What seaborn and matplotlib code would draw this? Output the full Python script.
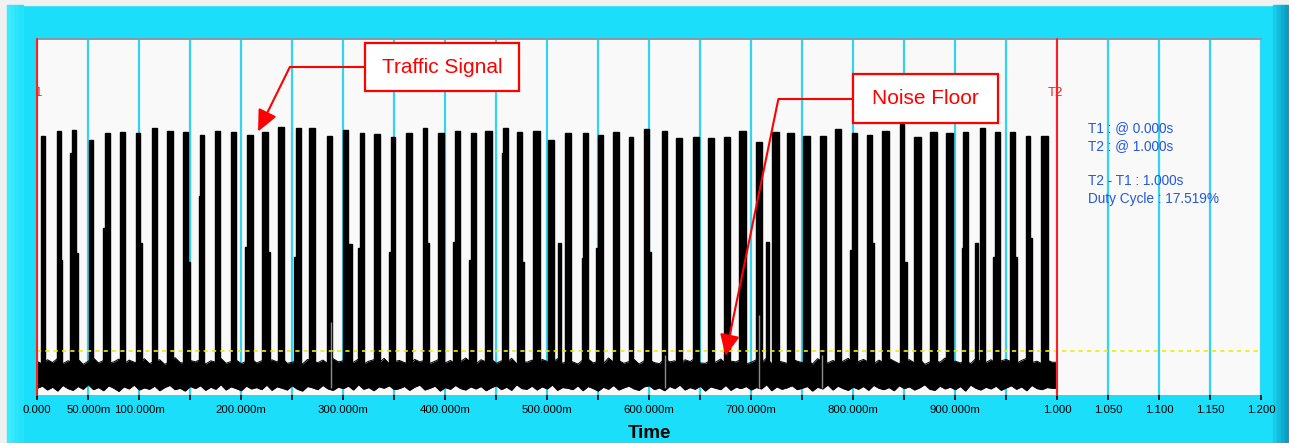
import numpy as np
import matplotlib
matplotlib.use("Agg")
import matplotlib.pyplot as plt
from matplotlib.patches import Rectangle
import seaborn as sns

# ---------------- data ----------------
# main bursts: start (ms), width (ms), peak level
burst_start = [3.6, 19.0, 34.3, 50.4, 66.7, 81.1, 96.8, 112.2, 127.5, 143.1,
               159.8, 174.2, 189.9, 205.9, 220.6, 236.3, 253.6, 266.7, 284.3, 299.4,
               316.4, 330.4, 346.8, 361.2, 377.8, 393.1, 409.5, 424.9, 438.9, 456.9,
               470.6, 486.3, 501.0, 517.4, 535.3, 549.4, 564.1, 580.1, 595.1, 612.2,
               626.2, 642.6, 657.8, 673.5, 688.2, 704.6, 720.6, 735.3, 751.0, 767.4,
               782.0, 798.4, 813.1, 828.4, 845.8, 859.5, 875.2, 890.6, 907.8, 924.2,
               938.9, 953.6, 969.0, 984.0]
burst_width = [4.0, 4.0, 3.7, 4.6, 4.7, 5.0, 4.0, 5.0, 5.3, 5.0,
               3.7, 5.0, 4.7, 5.3, 5.3, 6.0, 5.0, 6.0, 4.3, 5.0,
               4.0, 6.0, 4.0, 6.0, 4.0, 6.0, 5.0, 5.0, 6.5, 4.3,
               4.3, 6.5, 5.7, 6.0, 5.0, 5.0, 6.3, 4.3, 5.0, 5.0,
               5.7, 5.7, 5.7, 5.7, 6.7, 5.7, 6.5, 6.5, 6.5, 5.7,
               5.7, 5.0, 5.0, 6.5, 4.3, 6.5, 7.0, 7.0, 4.3, 5.3,
               5.0, 5.0, 4.3, 6.5]
burst_peak = [72.8, 74.2, 74.4, 71.6, 73.6, 74.0, 73.6, 75.0, 74.2, 73.9,
              73.0, 74.2, 74.0, 73.0, 74.0, 75.4, 74.9, 74.9, 72.8, 74.4,
              73.5, 73.2, 72.6, 73.5, 74.9, 73.5, 74.2, 73.5, 74.2, 75.1,
              74.0, 74.2, 71.6, 73.5, 73.5, 73.0, 74.0, 72.6, 74.7, 74.2,
              72.3, 72.6, 72.1, 72.6, 74.2, 71.2, 74.0, 73.5, 72.8, 72.8,
              74.7, 73.5, 73.0, 74.2, 76.0, 72.6, 73.8, 73.5, 74.0, 74.9,
              74.0, 74.0, 72.8, 72.8]

# shoulders / short secondary bursts: start (ms), width (ms), level
shoulder_start = [23.0, 32.3, 38.0, 64.7, 100.8, 148.1, 158.5, 203.6, 225.9, 251.9,
                  304.9, 314.7, 344.8, 381.8, 407.8, 423.6, 455.2, 474.9, 510.2, 533.6,
                  547.7, 600.1, 714.4, 796.7, 818.1, 850.1, 906.1, 919.3, 937.2, 958.6,
                  973.3]
shoulder_width = [1.7, 2.0, 1.7, 2.0, 1.7, 1.7, 1.3, 2.3, 2.3, 1.7,
                  3.3, 1.7, 2.0, 2.0, 1.7, 1.3, 1.7, 2.7, 3.0, 1.7,
                  1.7, 1.7, 3.3, 1.7, 2.3, 2.3, 1.7, 2.7, 1.7, 2.3,
                  2.3]
shoulder_peak = [38.0, 68.0, 40.0, 47.0, 42.7, 37.5, 56.0, 41.7, 40.3, 38.8,
                 42.3, 41.3, 40.3, 42.6, 43.0, 38.0, 68.0, 37.5, 42.6, 38.4,
                 41.2, 40.3, 43.1, 40.7, 42.6, 37.5, 41.2, 42.6, 38.8, 38.8,
                 44.0]

# noise floor envelope, one value per 5 ms from 0 to 0.995 s
noise_upper = [
    9.4, 8.7, 9.9, 9.1, 10.3, 8.8, 9.6, 9.2, 10.0, 8.6, 9.5, 10.4, 9.0, 9.7, 8.9, 9.3, 10.1, 8.7, 9.8, 9.2,
    9.0, 10.2, 8.8, 9.5, 9.9, 8.6, 9.4, 10.5, 9.1, 8.9, 9.7, 9.3, 10.0, 8.7, 9.6, 9.2, 10.3, 8.9, 9.4, 9.8,
    8.8, 9.5, 10.1, 9.0, 9.6, 8.6, 9.9, 9.3, 10.4, 8.9, 9.2, 9.7, 8.7, 10.0, 9.4, 9.1, 9.8, 8.8, 10.2, 9.3,
    9.6, 8.9, 9.2, 10.1, 8.7, 9.5, 9.9, 9.0, 10.3, 8.8, 9.4, 9.7, 9.1, 8.6, 10.0, 9.3, 9.8, 8.9, 9.5, 10.2,
    9.0, 9.7, 8.8, 9.4, 10.4, 9.2, 8.7, 9.9, 9.3, 10.1, 8.9, 9.6, 9.0, 10.3, 8.8, 9.5, 9.2, 9.8, 8.6, 10.0,
    9.4, 9.1, 10.2, 8.9, 9.6, 9.3, 8.7, 9.9, 10.1, 9.0, 9.5, 8.8, 10.4, 9.2, 9.7, 8.9, 9.4, 10.0, 8.7, 9.6,
    9.8, 9.1, 8.8, 10.2, 9.3, 9.6, 8.6, 9.9, 9.4, 10.3, 9.0, 8.9, 9.7, 9.2, 10.1, 8.8, 9.5, 9.3, 10.0, 8.7,
    9.2, 9.9, 9.0, 10.4, 8.8, 9.6, 9.3, 8.9, 10.1, 9.5, 9.1, 9.8, 8.7, 10.2, 9.4, 9.0, 9.7, 8.9, 9.5, 10.3,
    8.9, 9.4, 10.0, 9.2, 8.7, 9.8, 9.1, 10.3, 9.5, 8.8, 9.6, 9.9, 9.0, 10.1, 8.6, 9.3, 9.7, 9.2, 10.4, 8.9,
    9.5, 9.0, 9.8, 8.8, 10.2, 9.4, 9.1, 9.9, 8.7, 9.6, 10.0, 9.3, 8.9, 9.7, 10.3, 9.1, 9.5, 8.8, 9.8, 9.2]
noise_lower = [
    1.9, 2.5, 1.4, 2.2, 1.1, 2.7, 1.8, 1.3, 2.4, 1.6, 2.9, 1.5, 2.1, 1.2, 2.6, 1.9, 1.0, 2.3, 1.7, 2.8,
    1.4, 2.0, 1.6, 2.5, 1.2, 2.1, 2.7, 1.5, 1.9, 1.1, 2.4, 1.8, 2.6, 1.3, 2.2, 1.6, 2.9, 1.4, 2.3, 1.8,
    1.2, 2.5, 1.7, 2.1, 1.5, 2.8, 1.3, 2.3, 1.9, 1.4, 2.6, 1.6, 1.1, 2.4, 2.0, 1.5, 2.7, 1.7, 1.3, 2.2,
    1.8, 2.5, 1.4, 2.9, 1.6, 2.1, 1.2, 2.3, 1.9, 2.6, 1.5, 1.8, 2.4, 1.3, 2.2, 2.8, 1.4, 1.9, 2.5, 1.1,
    2.1, 1.6, 2.7, 1.8, 1.4, 2.3, 1.7, 2.4, 1.2, 2.0, 2.6, 1.5, 2.2, 1.3, 2.9, 1.8, 1.6, 2.5, 1.4, 2.3,
    1.7, 2.8, 1.3, 2.1, 1.9, 1.5, 2.6, 1.2, 2.4, 1.8, 1.1, 2.2, 1.6, 2.7, 1.4, 2.0, 2.5, 1.7, 1.3, 2.3,
    2.6, 1.5, 2.0, 1.2, 2.4, 1.8, 2.8, 1.4, 2.1, 1.6, 2.5, 1.1, 2.3, 1.9, 1.5, 2.7, 1.3, 2.2, 1.8, 2.4,
    1.4, 2.1, 1.7, 2.9, 1.2, 2.3, 1.6, 2.0, 2.6, 1.5, 1.9, 2.4, 1.1, 2.2, 1.7, 2.8, 1.4, 2.5, 1.8, 1.3,
    2.2, 1.6, 2.4, 1.3, 2.7, 1.9, 1.5, 2.1, 1.2, 2.6, 1.8, 2.3, 1.4, 2.0, 2.9, 1.6, 1.3, 2.5, 1.7, 2.2,
    1.5, 2.4, 1.1, 2.8, 1.9, 1.4, 2.2, 1.7, 2.5, 1.3, 2.0, 2.6, 1.6, 2.3, 1.2, 2.7, 1.8, 1.5, 2.1, 1.9]
noise_t = [i / 200 for i in range(200)]

# isolated grey glitches: time (s), top level
spike_t = [0.2877, 0.6154, 0.7075, 0.7690]
spike_top = [20.5, 11.2, 22.5, 11.2]

threshold = 12.4
cursor_t = [0.0, 1.0]

tick_pos = [0.0, 0.05, 0.10, 0.15, 0.20, 0.25, 0.30, 0.35, 0.40, 0.45, 0.50, 0.55,
            0.60, 0.65, 0.70, 0.75, 0.80, 0.85, 0.90, 0.95, 1.00, 1.05, 1.10, 1.15, 1.20]
tick_lab = ["0.000", "50.000m", "100.000m", "", "200.000m", "", "300.000m", "",
            "400.000m", "", "500.000m", "", "600.000m", "", "700.000m", "",
            "800.000m", "", "900.000m", "", "1.000", "1.050", "1.100", "1.150", "1.200"]

info_lines = ["T1 : @ 0.000s", "T2 : @ 1.000s", "T2 - T1 : 1.000s", "Duty Cycle : 17.519%"]
info_y = [75.0, 69.9, 60.0, 55.1]

# ---------------- style ----------------
sns.set_theme(style="white")
plt.rcParams["font.family"] = ["Liberation Sans", "DejaVu Sans"]

CYAN = "#1ADEFA"
fig = plt.figure(figsize=(12.89, 4.43), dpi=100, facecolor=CYAN)

# frame decorations (behind everything)
W, H = 1289, 443
deco = [Rectangle((0, 1 - 5 / H), 1, 5 / H, color="#F1F1F1"),
        Rectangle((0, 0), 7 / W, 1, color="#F1F1F1")]
for i, c in enumerate(["#3CEBFF", "#34E8FE", "#2CE5FC", "#24E2FB"]):
    deco.append(Rectangle(((7 + i * 4) / W, 0), 4 / W, 1 - 5 / H, color=c))
for i, c in enumerate(["#17CDEB", "#13BCDD", "#10ABCF", "#0D9CC2"]):
    deco.append(Rectangle(((1273 + i * 4) / W, 0), 4 / W, 1 - 5 / H, color=c))
for r in deco:
    r.set_transform(fig.transFigure)
    r.set_zorder(-10)
    fig.patches.append(r)

ax = fig.add_axes([37.3 / W, 48 / H, 1224 / W, 356 / H])
ax.set_zorder(1)
ax.set_facecolor("#F9F9F9")
ax.set_xlim(0, 1.2)
ax.set_ylim(0, 100)
ax.set_yticks([])

ax.set_xticks(tick_pos)
ax.set_xticklabels(tick_lab, fontsize=8.2, color="black")
ax.tick_params(axis="x", direction="out", length=3.8, width=1.2, color="black",
               pad=3.5, bottom=True)
ax.grid(axis="x", color="#33D3F2", lw=1.6)
ax.grid(axis="y", visible=False)
ax.set_axisbelow(True)
for s in ["left", "right", "bottom"]:
    ax.spines[s].set_visible(False)
ax.spines["top"].set_color("#8A9AA6")
ax.spines["top"].set_linewidth(1.4)

ax.set_xlabel("Time", fontsize=13.5, fontweight="bold", color="black", labelpad=7)

# noise floor
nt = np.append(np.array(noise_t), 1.0)
nu = np.append(np.array(noise_upper), noise_upper[-1])
nl = np.append(np.array(noise_lower), noise_lower[-1])
ax.fill_between(nt, nl, nu, color="black", lw=0, zorder=3)
sns.lineplot(x=nt, y=nu, color="black", lw=0.7, ax=ax, zorder=3)
sns.lineplot(x=nt, y=nl, color="black", lw=0.7, ax=ax, zorder=3)

# bursts
base = 5.0
bs = np.array(burst_start) / 1000.0
bw = np.array(burst_width) / 1000.0
bp = np.array(burst_peak)
ax.bar(bs, bp - base, width=bw, bottom=base, align="edge", color="black",
       edgecolor="black", lw=1.0, zorder=3)
ss = np.array(shoulder_start) / 1000.0
sw = np.array(shoulder_width) / 1000.0
sp = np.array(shoulder_peak)
ax.bar(ss, sp - base, width=sw, bottom=base, align="edge", color="black",
       edgecolor="black", lw=1.0, zorder=3)

# glitches
ax.vlines(spike_t, 2.0, spike_top, color="#8C8C8C", lw=1.0, zorder=4)

# threshold
ax.axhline(threshold, color="#EEEE00", lw=1.2, ls=(0, (2.5, 2.5)), zorder=4)

# cursors
for t in cursor_t:
    ax.axvline(t, color="#FF2020", lw=1.5, zorder=5, clip_on=False)
ax.text(-0.002, 84.8, "T1", color="#FF2020", fontsize=9.5, ha="center", va="center",
        clip_on=True, zorder=5)
ax.text(0.998, 84.8, "T2", color="#FF2020", fontsize=9.5, ha="center", va="center",
        zorder=5)

for txt, y in zip(info_lines, info_y):
    ax.text(1.030, y, txt, color="#2457DD", fontsize=9.8, ha="left", va="center", zorder=5)

# annotations
RED = "#FF0000"
ax.add_patch(Rectangle((0.3216, 85.3), 0.1503, 13.5, facecolor="white", edgecolor=RED,
                       lw=1.6, zorder=6))
ax.text(0.3967, 92.0, "Traffic Signal", color=RED, fontsize=15, ha="center", va="center",
        zorder=7)
ax.plot([0.3216, 0.2477], [92.2, 92.2], color=RED, lw=1.5, zorder=6, solid_capstyle="butt")
ax.annotate("", xy=(0.2164, 74.0), xytext=(0.2477, 92.2),
            arrowprops=dict(arrowstyle="-|>,head_length=0.65,head_width=0.3", color=RED,
                            lw=1.5, mutation_scale=20, shrinkA=0, shrinkB=0), zorder=6)

ax.add_patch(Rectangle((0.800, 76.5), 0.1416, 13.6, facecolor="white", edgecolor=RED,
                       lw=1.6, zorder=6))
ax.text(0.8708, 83.3, "Noise Floor", color=RED, fontsize=15, ha="center", va="center",
        zorder=7)
ax.plot([0.800, 0.7265], [83.1, 83.1], color=RED, lw=1.5, zorder=6, solid_capstyle="butt")
ax.annotate("", xy=(0.6747, 10.96), xytext=(0.7265, 83.1),
            arrowprops=dict(arrowstyle="-|>,head_length=0.65,head_width=0.3", color=RED,
                            lw=1.5, mutation_scale=20, shrinkA=0, shrinkB=0), zorder=6)

fig.savefig("out.png", dpi=100, facecolor=CYAN)
